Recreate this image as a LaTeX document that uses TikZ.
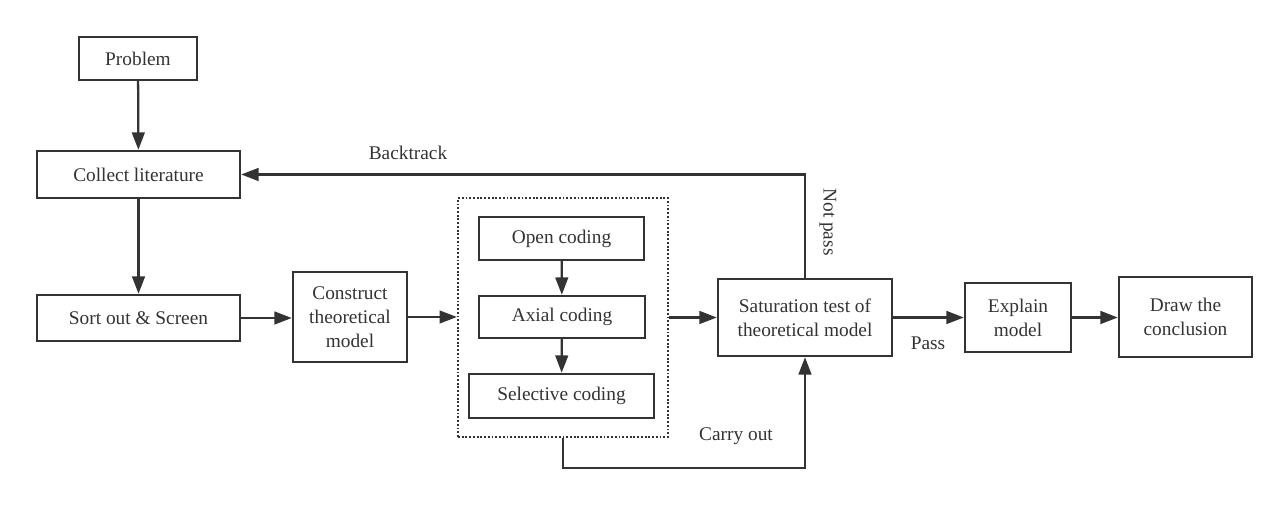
\documentclass[tikz,border=0pt]{standalone}
\usepackage{fontspec}
\setmainfont{Liberation Serif}
\usetikzlibrary{arrows.meta}
\definecolor{ink}{HTML}{333333}
\tikzset{
  box/.style={draw=ink, line width=1.8pt, rectangle, inner sep=0pt, align=center, text=ink,
    font=\fontsize{14.5}{18}\selectfont},
  lbl/.style={text=ink, inner sep=0pt, font=\fontsize{14.5}{18}\selectfont},
  arr/.style={draw=ink, line width=1.7pt, -{Triangle[length=13pt,width=9.5pt]}},
  grp/.style={draw=ink, line width=1.7pt, dash pattern=on 1.4pt off 1.4pt, rectangle, inner sep=0pt}
}
\begin{document}
\begin{tikzpicture}[x=0.75pt,y=-0.75pt]
\useasboundingbox (0,0) rectangle (1288,505);
\node[box, minimum width=88.5pt, minimum height=32.25pt] (prob) at (138,58.5) {Problem};
\node[box, minimum width=152.25pt, minimum height=35.25pt] (coll) at (138.5,174.5) {Collect literature};
\node[box, minimum width=152.25pt, minimum height=34.5pt] (sort) at (138.5,318) {Sort out \& Screen};
\node[box, minimum width=85.5pt, minimum height=67.5pt] (cons) at (350,317) {Construct\\theoretical\\model};
\node[grp, minimum width=157.5pt, minimum height=179.25pt] (grp) at (563,317.5) {};
\node[box, minimum width=123.75pt, minimum height=32.25pt] (open) at (561.5,238.5) {Open coding};
\node[box, minimum width=124.5pt, minimum height=31.5pt] (axial) at (562,317) {Axial coding};
\node[box, minimum width=138.75pt, minimum height=33pt] (sel) at (561.5,396) {Selective coding};
\node[box, minimum width=130.5pt, minimum height=57.75pt] (sat) at (805,317.5) {Saturation test of\\theoretical model};
\node[box, minimum width=79.5pt, minimum height=51.75pt] (expl) at (1018,317.5) {Explain\\model};
\node[box, minimum width=99.75pt, minimum height=60pt] (concl) at (1185.5,317) {Draw the\\conclusion};

\draw[arr] (prob) -- (coll);
\draw[arr] (coll) -- (sort);
\draw[arr] (sort.east) -- (sort.east -| cons.west);
\draw[arr] (cons.east) -- (cons.east -| grp.west);
\draw[arr] (open) -- (axial);
\draw[arr] (axial) -- (sel);
\draw[arr] (grp.east) -- (grp.east -| sat.west);
\draw[arr] (sat.north) |- (coll.east);
\draw[arr] (grp.south) -- ++(0,30) -| (sat.south);
\draw[arr] (sat.east) -- (sat.east -| expl.west);
\draw[arr] (expl.east) -- (expl.east -| concl.west);

\node[lbl] (bt) at (408,153) {Backtrack};
\node[lbl, rotate=-90] (np) at (828,222) {Not pass};
\node[lbl] (co) at (736,436) {Carry out};
\node[lbl] (ps) at (928,343) {Pass};
\end{tikzpicture}
\end{document}
